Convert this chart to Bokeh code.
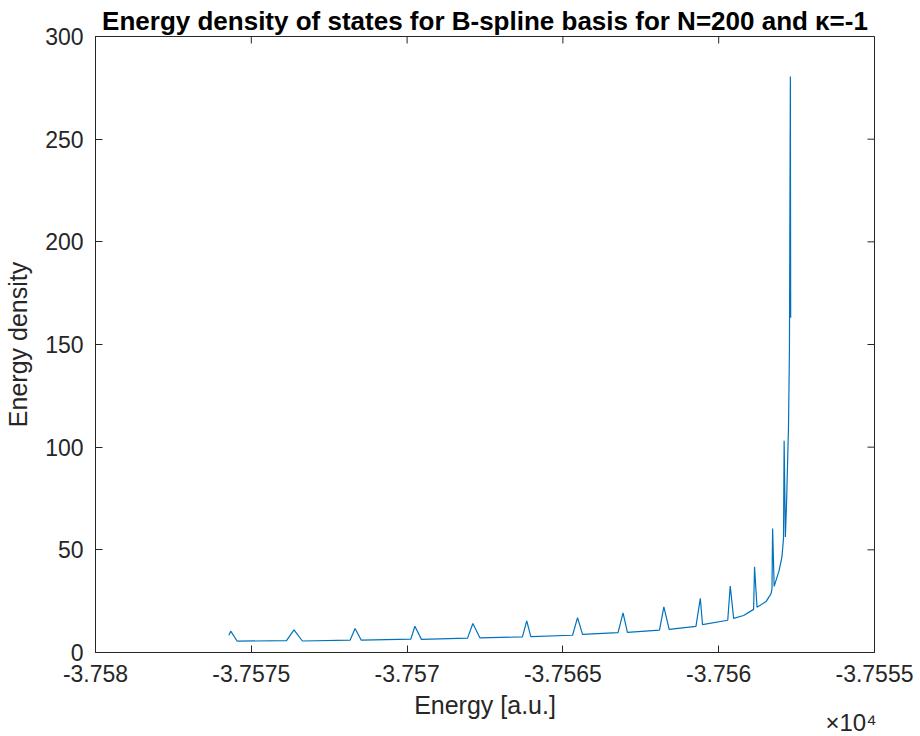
from bokeh.plotting import figure
from bokeh.models import Range1d, FixedTicker, CustomJSTickFormatter, Title
from bokeh.embed import file_html
from bokeh.resources import INLINE

# Energy levels (a.u.) and density of states of the B-spline spectrum, N=200, kappa=-1
energy = [
    -37575.72, -37575.66, -37575.45,
    -37573.87, -37573.63, -37573.36,
    -37571.83, -37571.67, -37571.47,
    -37569.88, -37569.75, -37569.54,
    -37568.06, -37567.89, -37567.66,
    -37566.30, -37566.16, -37566.03,
    -37564.69, -37564.53, -37564.37,
    -37563.23, -37563.07, -37562.93,
    -37561.90, -37561.76, -37561.59,
    -37560.73, -37560.59, -37560.52,
    -37559.71, -37559.63, -37559.52,
    -37559.20, -37558.88, -37558.85, -37558.77,
    -37558.48, -37558.32, -37558.29, -37558.27, -37558.22,
    -37558.06, -37557.97, -37557.92, -37557.90, -37557.86,
    -37557.82, -37557.76, -37557.73, -37557.70, -37557.69,
]
density = [
    8.4, 10.4, 5.5,
    5.8, 11.0, 5.6,
    6.0, 11.7, 6.0,
    6.5, 12.8, 6.4,
    7.0, 14.1, 7.1,
    7.6, 15.4, 7.7,
    8.4, 17.0, 8.8,
    9.7, 19.3, 9.8,
    10.9, 22.2, 11.3,
    12.7, 26.4, 13.6,
    15.7, 32.4, 16.6,
    18.0, 21.0, 41.7, 22.0,
    24.8, 28.7, 31.0, 60.4, 32.2,
    40.0, 46.6, 55.5, 103.1, 56.3,
    74.0, 110.0, 147.0, 280.5, 163.0,
]

x_ticks = [-37580, -37575, -37570, -37565, -37560, -37555]
y_ticks = [0, 50, 100, 150, 200, 250, 300]
x_lo, x_hi = -37580, -37555
y_lo, y_hi = 0, 300

AX = "#262626"
FONT = "Liberation Sans"
W, H = 920, 736
BL, BR, BT, BB = 95, 46, 36, 84
TICK = 7  # tick length, px

p = figure(width=W, height=H, output_backend="svg", toolbar_location=None,
           x_range=Range1d(x_lo, x_hi), y_range=Range1d(y_lo, y_hi),
           min_border_left=BL, min_border_right=BR, min_border_top=BT,
           min_border_bottom=BB,
           title="Energy density of states for B-spline basis for N=200 and κ=-1")
p.background_fill_color = "white"
p.border_fill_color = "white"
p.outline_line_color = AX
p.outline_line_width = 1
p.xgrid.visible = False
p.ygrid.visible = False

p.title.text_font = FONT
p.title.text_font_size = "26px"
p.title.text_font_style = "bold"
p.title.text_color = "black"
p.title.align = "center"
p.title.standoff = 2

fmt = CustomJSTickFormatter(code="return parseFloat((tick/1e4).toFixed(5)).toString();")

def style_axis(ax, ticks):
    ax.ticker = FixedTicker(ticks=ticks)
    ax.axis_line_color = AX
    ax.major_tick_line_color = AX
    ax.major_tick_in = TICK
    ax.major_tick_out = 0
    ax.minor_tick_line_color = None
    ax.major_label_text_font = FONT
    ax.major_label_text_font_size = "23px"
    ax.major_label_text_color = AX
    ax.axis_label_text_font = FONT
    ax.axis_label_text_font_size = "25px"
    ax.axis_label_text_font_style = "normal"
    ax.axis_label_text_color = AX

xa = p.xaxis[0]
style_axis(xa, x_ticks)
xa.formatter = fmt
xa.axis_label = "Energy [a.u.]"
xa.major_label_standoff = 12
xa.axis_label_standoff = 6

ya = p.yaxis[0]
style_axis(ya, y_ticks)
ya.axis_label = "Energy density"
ya.major_label_standoff = 12
ya.axis_label_standoff = 10

# inward box ticks along the top and right edges
dy = TICK * (y_hi - y_lo) / (H - BT - BB)
dx = TICK * (x_hi - x_lo) / (W - BL - BR)
p.segment(x0=x_ticks, y0=[y_hi] * len(x_ticks), x1=x_ticks, y1=[y_hi - dy] * len(x_ticks),
          line_color=AX, line_width=1)
p.segment(x0=[x_hi] * len(y_ticks), y0=y_ticks, x1=[x_hi - dx] * len(y_ticks), y1=y_ticks,
          line_color=AX, line_width=1)

p.line(energy, density, line_color="#0072BD", line_width=1.2)

# exponent of the x-axis scale, tucked under the last tick label
exp_title = Title(text="×10⁴", align="right", text_font=FONT, text_font_size="24px",
                  text_font_style="normal", text_color=AX, standoff=-29, offset=-2)
p.add_layout(exp_title, "below")

open("out.html", "w").write(file_html(p, INLINE))
